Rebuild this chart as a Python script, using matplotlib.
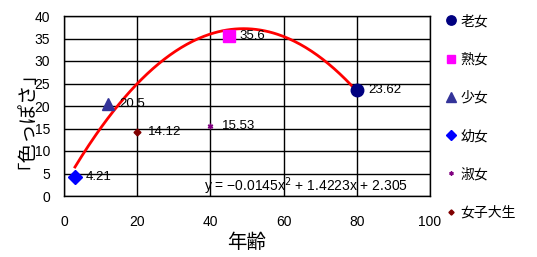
import numpy as np
import matplotlib
matplotlib.use("Agg")
import matplotlib.pyplot as plt

plt.rcParams['font.family'] = ['Liberation Sans', 'Noto Sans CJK JP', 'DejaVu Sans']

names = ['老女', '熟女', '少女', '幼女', '淑女', '女子大生']
ages = [80, 45, 12, 3, 40, 20]
scores = [23.62, 35.6, 20.5, 4.21, 15.53, 14.12]
labels = ['23.62', '35.6', '20.5', '4.21', '15.53', '14.12']
markers = ['o', 's', '^', 'D', (6, 2, 0), 'D']
colors = ['#000080', '#ff00ff', '#333399', '#0000ff', '#800080', '#800000']
sizes = [9, 8, 9, 7, 4, 3.5]

# trend line coefficients (from the chart)
coef = [-0.0145, 1.4223, 2.305]
trend_x = np.linspace(3, 80, 200)
trend_y = np.polyval(coef, trend_x)

fig = plt.figure(figsize=(5.37, 2.57), dpi=100)
ax = fig.add_axes((64 / 537, 61 / 257, 366 / 537, 180 / 257))

ax.plot(trend_x, trend_y, color='red', lw=2, zorder=2)
for name, x, y, lab, m, c, s in zip(names, ages, scores, labels, markers, colors, sizes):
    ax.plot(x, y, marker=m, color=c, markersize=s, linestyle='none', label=name, zorder=3)
    ax.annotate(lab, (x, y), xytext=(8, 0), textcoords='offset points',
                fontsize=9.5, va='center', ha='left')

ax.text(66, 2.1, 'y = \u22120.0145x$^2$ + 1.4223x + 2.305', fontsize=10,
        ha='center', va='center')

ax.set_xlim(0, 100)
ax.set_ylim(0, 40)
ax.set_xticks(range(0, 101, 20))
ax.set_yticks(range(0, 41, 5))
ax.grid(True, color='black', lw=1)
ax.set_axisbelow(True)
ax.tick_params(axis='x', length=0, labelsize=10, pad=14)
ax.tick_params(axis='y', length=0, labelsize=10, pad=10)
for sp in ax.spines.values():
    sp.set_linewidth(1)

ax.set_xlabel('年齢', fontsize=14, family=['Noto Sans CJK JP'], labelpad=2)
ax.set_ylabel('「色っぽさ」', fontsize=14, family=['Noto Sans CJK JP'],
              rotation_mode='default', ha='center', va='center')
ax.yaxis.set_label_coords(-0.128, 0.475)

leg = ax.legend(loc='upper left', bbox_to_anchor=(1.0, 1.08), frameon=False,
                prop={'family': 'Noto Sans CJK JP', 'size': 10}, markerscale=0.75,
                handletextpad=0.1, handlelength=1.2, labelspacing=1.75)

fig.savefig('out.png', dpi=100)
